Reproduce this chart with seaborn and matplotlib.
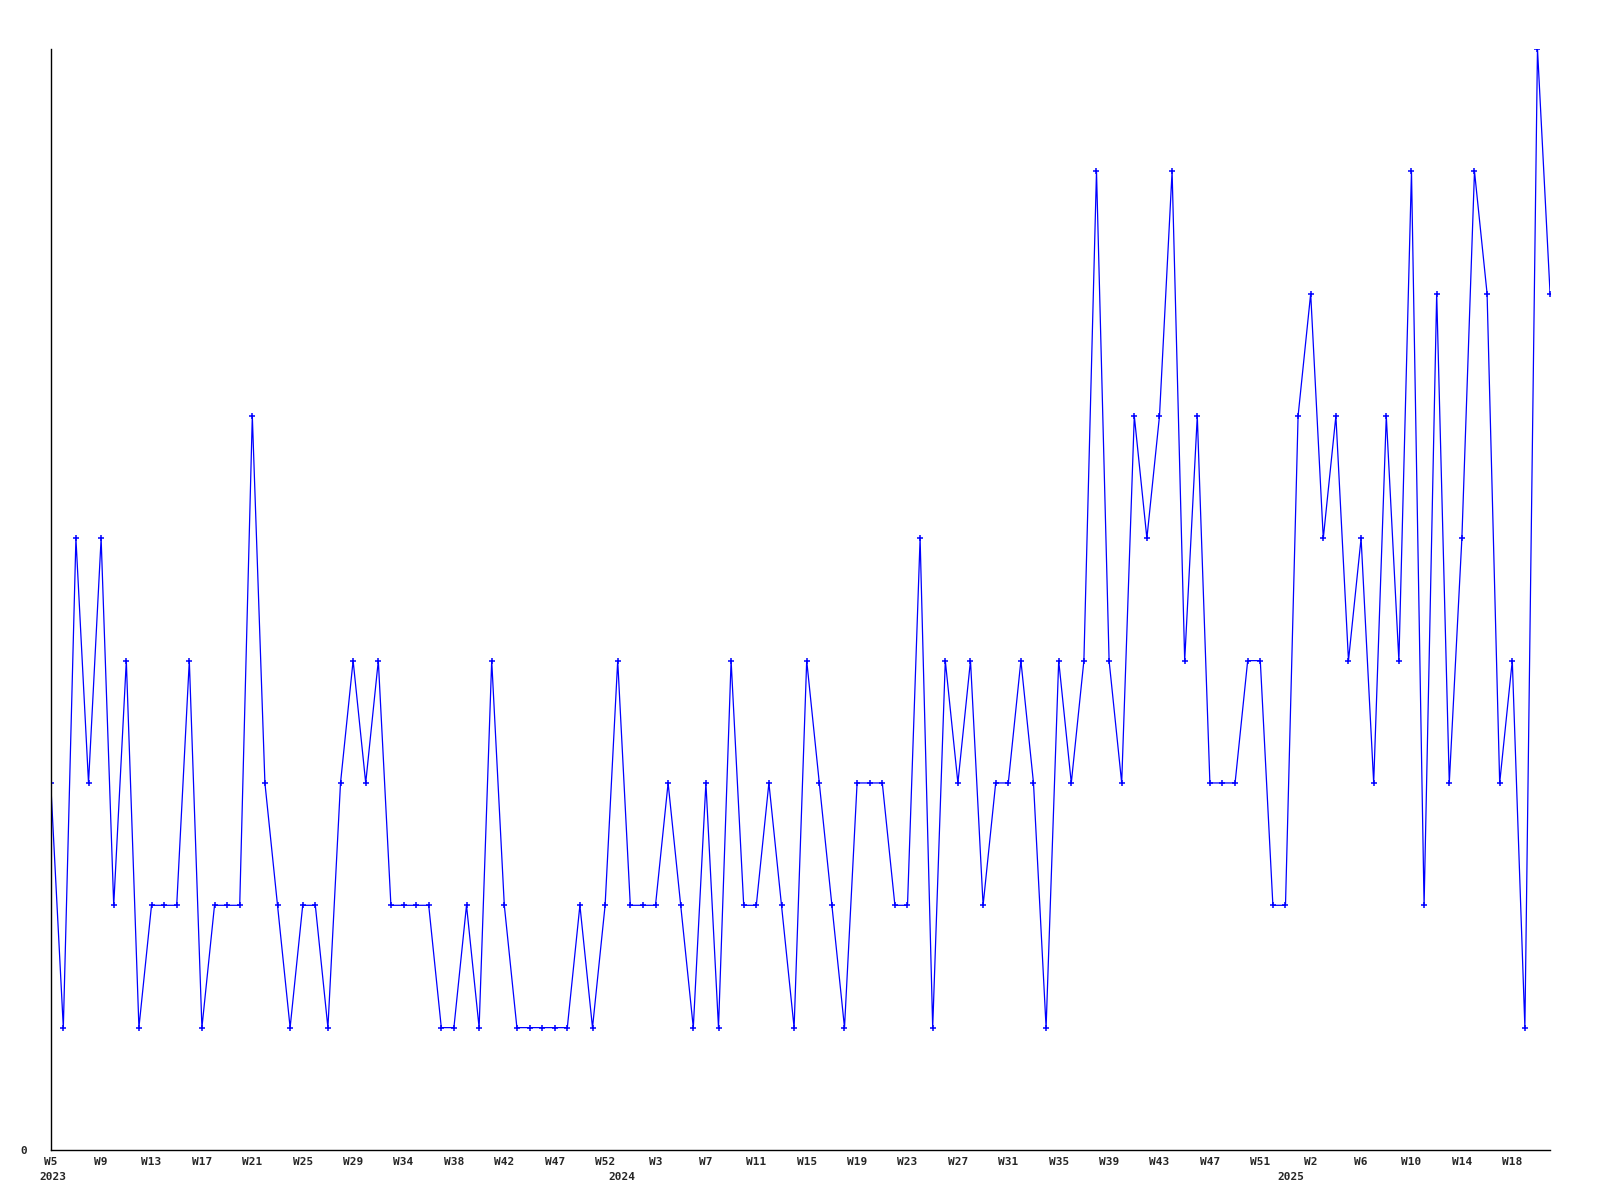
import matplotlib
matplotlib.use("Agg")
import matplotlib.pyplot as plt
import seaborn as sns
import pandas as pd

values = [3, 1, 5, 3, 5, 2, 4, 1, 2, 2,
          2, 4, 1, 2, 2, 2, 6, 3, 2, 1,
          2, 2, 1, 3, 4, 3, 4, 2, 2, 2,
          2, 1, 1, 2, 1, 4, 2, 1, 1, 1,
          1, 1, 2, 1, 2, 4, 2, 2, 2, 3,
          2, 1, 3, 1, 4, 2, 2, 3, 2, 1,
          4, 3, 2, 1, 3, 3, 3, 2, 2, 5,
          1, 4, 3, 4, 2, 3, 3, 4, 3, 1,
          4, 3, 4, 8, 4, 3, 6, 5, 6, 8,
          4, 6, 3, 3, 3, 4, 4, 2, 2, 6,
          7, 5, 6, 4, 5, 3, 6, 4, 8, 2,
          7, 3, 5, 8, 7, 3, 4, 1, 9, 7]

week_labels = ["W5", "W9", "W13", "W17", "W21", "W25", "W29", "W34", "W38", "W42",
               "W47", "W52", "W3", "W7", "W11", "W15", "W19", "W23", "W27", "W31",
               "W35", "W39", "W43", "W47", "W51", "W2", "W6", "W10", "W14", "W18"]
year_labels = ["2023", "2024", "2025"]
year_positions = [0.2, 45.3, 98.4]

df = pd.DataFrame({"idx": range(len(values)), "count": values})

sns.set_style("white")
plt.rcParams['font.family'] = ['DejaVu Sans Mono', 'DejaVu Sans']

fig = plt.figure(figsize=(16, 12), dpi=100)
ax = fig.add_axes([0.0317, 0.0417, 0.9371, 0.9175])

sns.lineplot(data=df, x="idx", y="count", ax=ax, color="#0000FF",
             linewidth=0.9, marker="+", markersize=4, markeredgewidth=1.1,
             markeredgecolor="#0000FF")

ax.set_xlim(0, len(values) - 1)
ax.set_ylim(0, max(values))

ax.xaxis.remove_overlapping_locs = False
ax.set_xticks(range(0, 4 * len(week_labels), 4))
ax.set_xticklabels(week_labels, fontsize=8, fontweight="bold")
ax.set_xticks(year_positions, minor=True)
ax.set_xticklabels(year_labels, minor=True, fontsize=8, fontweight="bold")
ax.tick_params(axis="x", which="major", length=0, pad=5)
ax.tick_params(axis="x", which="minor", length=0, pad=16)

ax.set_yticks([0])
ax.set_yticklabels(["0"], fontsize=8, fontweight="bold")
ax.tick_params(axis="y", length=0, pad=17)

ax.set_xlabel("")
ax.set_ylabel("")
for side in ["top", "right"]:
    ax.spines[side].set_visible(False)
for side in ["left", "bottom"]:
    ax.spines[side].set_color("black")
    ax.spines[side].set_linewidth(1.0)
ax.grid(False)

fig.savefig("out.png", dpi=100, facecolor="white")
